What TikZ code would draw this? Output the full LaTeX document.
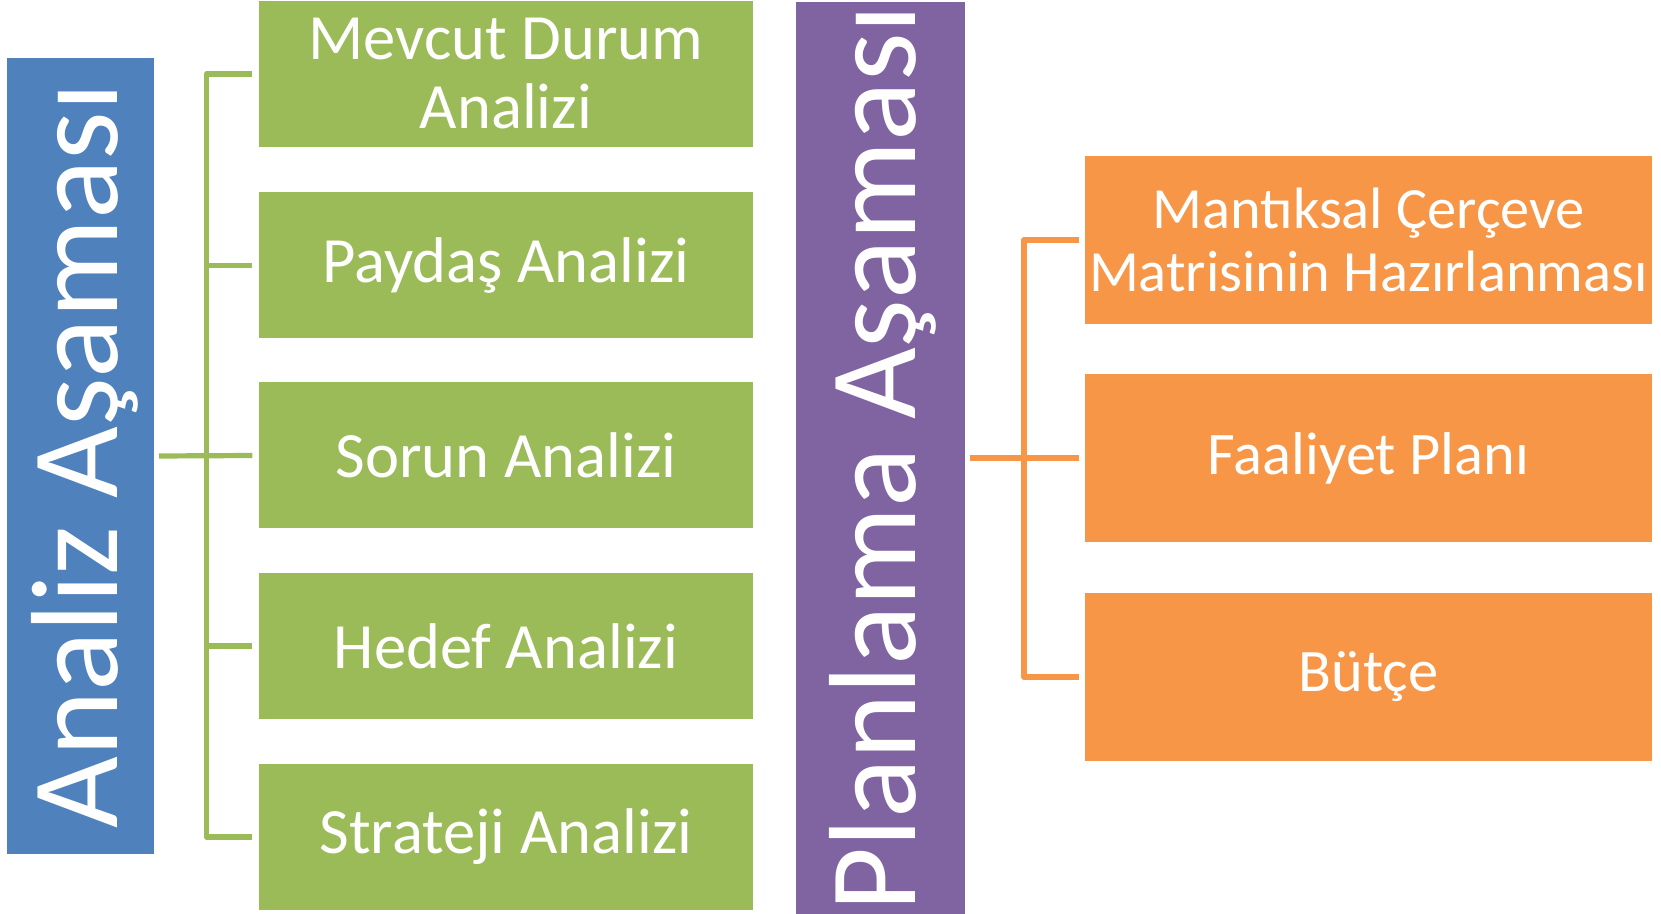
\documentclass[tikz,border=0pt]{standalone}
\usepackage{fontspec}
\setmainfont{Carlito}

\definecolor{analizblue}{HTML}{4F81BD}
\definecolor{analizgreen}{HTML}{9BBB59}
\definecolor{planpurple}{HTML}{8064A2}
\definecolor{planorange}{HTML}{F79646}

\begin{document}
\begin{tikzpicture}[line join=round,x=0.5pt,y=-0.5pt,
  phase/.style={inner sep=0pt,text=white,font=\fontsize{62}{62}\selectfont,rotate=90},
  gbox/.style={fill=analizgreen,inner sep=0pt,text=white,align=center,minimum width=246.75pt,minimum height=73pt,font=\fontsize{32.3}{34.5}\selectfont},
  obox/.style={fill=planorange,inner sep=0pt,text=white,align=center,minimum width=283.5pt,minimum height=84pt,font=\fontsize{30.2}{32}\selectfont},
  gline/.style={analizgreen,line width=2.6pt},
  oline/.style={planorange,line width=2.6pt}]

\useasboundingbox (0,0) rectangle (1661,914);

%phase bars
\fill[analizblue] (7,58) rectangle (154,854);
\node[phase] (analiz) at (84.5,456) {Analiz Aşaması};
\coordinate (analizr) at (154,456);
\fill[planpurple] (796,2) rectangle (965,914);
\node[phase] (planlama) at (883,458) {Planlama Aşaması};
\coordinate (planlamar) at (965,458);

%analysis boxes
\node[gbox] (mevcut) at (506,74) {Mevcut Durum\\Analizi};
\node[gbox] (paydas) at (506,265.5) {Paydaş Analizi};
\node[gbox] (sorun) at (506,455.5) {Sorun Analizi};
\node[gbox] (hedef) at (506,646) {Hedef Analizi};
\node[gbox] (strateji) at (506,837) {Strateji Analizi};

%planning boxes
\node[obox,font=\fontsize{29.2}{31.75}\selectfont] (mantiksal) at (1368.5,240) {Mantıksal Çerçeve\\Matrisinin Hazırlanması};
\node[obox] (faaliyet) at (1368.5,458) {Faaliyet Planı};
\node[obox] (butce) at (1368.5,677) {Bütçe};

%green bracket
\coordinate (gs) at (206.5,0);
\draw[gline] ([xshift=2.5pt]analizr) -- ([xshift=-3.25pt]sorun.west);
\draw[gline] ([xshift=-3.25pt]mevcut.west) -- (gs |- mevcut.west) -- (gs |- strateji.west) -- ([xshift=-3.25pt]strateji.west);
\foreach \b in {paydas,hedef}
  \draw[gline] (gs |- \b.west) -- ([xshift=-3.25pt]\b.west);

%orange bracket
\coordinate (os) at (1024,0);
\draw[oline] ([xshift=2.5pt]planlamar) -- ([xshift=-3pt]faaliyet.west);
\draw[oline] ([xshift=-3pt]mantiksal.west) -- (os |- mantiksal.west) -- (os |- butce.west) -- ([xshift=-3pt]butce.west);

\end{tikzpicture}
\end{document}
